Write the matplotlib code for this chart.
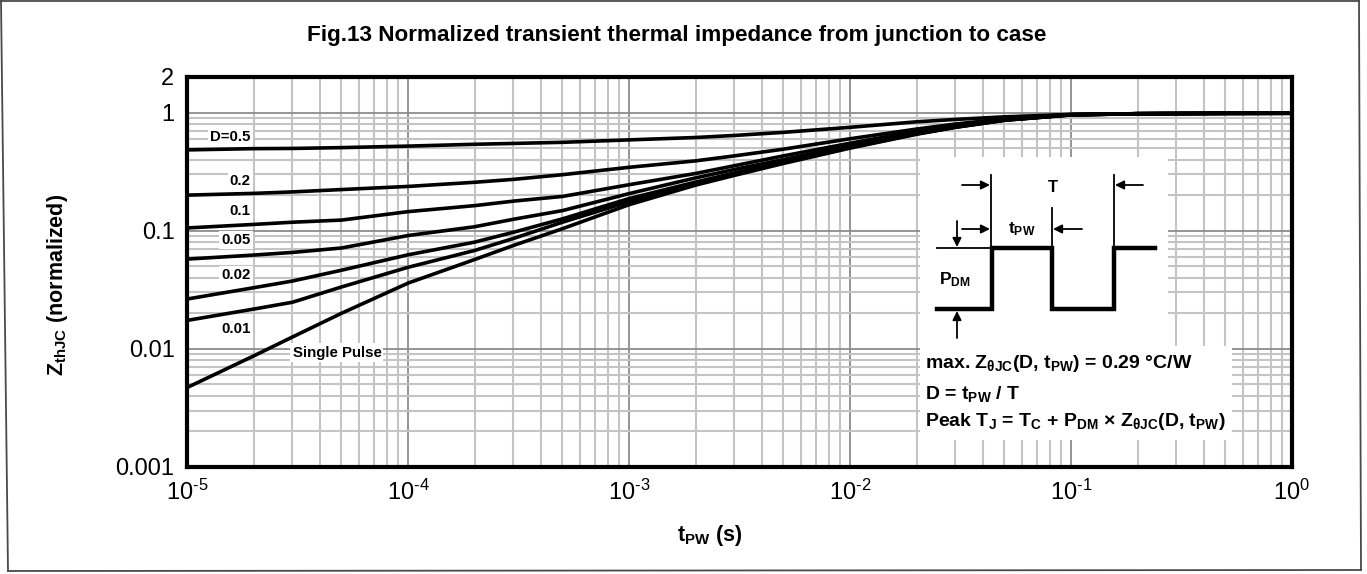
import numpy as np
import matplotlib
matplotlib.use("Agg")
import matplotlib.pyplot as plt
from matplotlib.ticker import LogLocator, FixedLocator, NullFormatter
from matplotlib.patches import Rectangle
from matplotlib.lines import Line2D

plt.rcParams['font.family'] = ['Liberation Sans', 'DejaVu Sans']
plt.rcParams['mathtext.fontset'] = 'custom'
plt.rcParams['mathtext.rm'] = 'Liberation Sans'
plt.rcParams['mathtext.bf'] = 'Liberation Sans:bold'
plt.rcParams['mathtext.it'] = 'Liberation Sans:italic'
plt.rcParams['axes.unicode_minus'] = False

# ---- data: pulse width (s) and normalized Zth(j-c) per duty cycle ----
t_pw = [1e-5, 2e-5, 3e-5, 5e-5, 1e-4, 2e-4, 3e-4, 5e-4, 1e-3, 2e-3,
        3e-3, 5e-3, 1e-2, 2e-2, 3e-2, 5e-2, 1e-1, 2e-1, 5e-1, 1.0]
z_d050 = [0.483, 0.495, 0.497, 0.505, 0.520, 0.539, 0.548, 0.560, 0.587, 0.615,
          0.640, 0.680, 0.750, 0.835, 0.875, 0.920, 0.965, 0.978, 0.985, 0.987]
z_d020 = [0.200, 0.207, 0.213, 0.223, 0.237, 0.257, 0.272, 0.298, 0.344, 0.390,
          0.430, 0.490, 0.600, 0.725, 0.800, 0.885, 0.962, 0.978, 0.985, 0.987]
z_d010 = [0.1055, 0.113, 0.118, 0.123, 0.145, 0.163, 0.178, 0.195, 0.245, 0.305,
          0.355, 0.430, 0.550, 0.695, 0.780, 0.875, 0.960, 0.978, 0.985, 0.987]
z_d005 = [0.0575, 0.0622, 0.0655, 0.0714, 0.091, 0.108, 0.125, 0.148, 0.206, 0.280,
          0.330, 0.400, 0.525, 0.672, 0.762, 0.867, 0.958, 0.978, 0.985, 0.987]
z_d002 = [0.0264, 0.0329, 0.0375, 0.0463, 0.0625, 0.080, 0.097, 0.126, 0.187, 0.258,
          0.308, 0.383, 0.510, 0.663, 0.755, 0.864, 0.957, 0.978, 0.985, 0.987]
z_d001 = [0.0174, 0.0217, 0.0248, 0.0334, 0.049, 0.068, 0.086, 0.118, 0.176, 0.250,
          0.300, 0.377, 0.505, 0.660, 0.752, 0.862, 0.956, 0.978, 0.985, 0.987]
z_single = [0.0047, 0.0087, 0.0126, 0.020, 0.036, 0.057, 0.075, 0.104, 0.166, 0.243,
            0.294, 0.371, 0.500, 0.655, 0.750, 0.860, 0.955, 0.978, 0.985, 0.987]

curve_names = ['D=0.5', '0.2', '0.1', '0.05', '0.02', '0.01', 'Single Pulse']
curve_values = [z_d050, z_d020, z_d010, z_d005, z_d002, z_d001, z_single]

x_ticks = [1e-5, 1e-4, 1e-3, 1e-2, 1e-1, 1.0]
x_tick_labels = [r'$\mathregular{10^{\text{-5}}}$', r'$\mathregular{10^{\text{-4}}}$',
                 r'$\mathregular{10^{\text{-3}}}$', r'$\mathregular{10^{\text{-2}}}$',
                 r'$\mathregular{10^{\text{-1}}}$', r'$\mathregular{10^{0}}$']
y_ticks = [0.001, 0.01, 0.1, 1, 2]
y_tick_labels = ['0.001', '0.01', '0.1', '1', '2']

# ---- figure in pixel units ----
W, H = 1367, 574
fig = plt.figure(figsize=(W / 100, H / 100), dpi=100)
fig.patch.set_facecolor('white')


def fx(px):
    return px / W


def fy(py):
    return 1 - py / H


ax = fig.add_axes([fx(187), fy(467), fx(1292) - fx(187), fy(77) - fy(467)])
ax.set_xscale('log')
ax.set_yscale('log')
ax.set_xlim(1e-5, 1.0)
ax.set_ylim(1e-3, 2.0)

ax.xaxis.set_major_locator(FixedLocator(x_ticks))
ax.set_xticklabels(x_tick_labels)
ax.xaxis.set_minor_locator(LogLocator(base=10, subs=np.arange(2, 10), numticks=30))
ax.xaxis.set_minor_formatter(NullFormatter())
ax.yaxis.set_major_locator(FixedLocator(y_ticks))
ax.set_yticklabels(y_tick_labels)
ax.yaxis.set_minor_locator(LogLocator(base=10, subs=np.arange(2, 10), numticks=30))
ax.yaxis.set_minor_formatter(NullFormatter())

ax.tick_params(which='both', length=0)
ax.tick_params(axis='x', which='major', labelsize=17, pad=9)
ax.tick_params(axis='y', which='major', labelsize=17, pad=9)

ax.grid(which='minor', color='#c4c4c4', lw=1.5, zorder=0)
ax.grid(which='major', color='#8c8c8c', lw=1.3, zorder=0)
ax.set_axisbelow(True)
for sp in ax.spines.values():
    sp.set_linewidth(3.0)
    sp.set_color('black')

for zvals in curve_values:
    ax.plot(t_pw, zvals, color='black', lw=2.6, solid_joinstyle='round',
            solid_capstyle='butt', zorder=3)

# curve labels (data coordinates)
label_box = dict(facecolor='white', edgecolor='none', pad=1.5)
label_pos = [(1.94e-5, 0.626), (1.94e-5, 0.262), (1.94e-5, 0.146),
             (1.94e-5, 0.083), (1.94e-5, 0.042), (1.94e-5, 0.0147)]
for name, (lx, ly) in zip(curve_names[:-1], label_pos):
    ax.text(lx, ly, name, ha='right', va='center', fontsize=10.8,
            fontweight='bold', bbox=label_box, zorder=2)
ax.text(4.77e-5, 0.0093, curve_names[-1], ha='center', va='center',
        fontsize=10.8, fontweight='bold', bbox=label_box, zorder=2)

# titles
fig.text(fx(677), fy(35), 'Fig.13 Normalized transient thermal impedance from junction to case',
         ha='center', va='center', fontsize=16.2, fontweight='bold')
fig.text(fx(710), fy(536), r't$_\mathregular{PW}$ (s)', ha='center', va='center',
         fontsize=15.5, fontweight='bold')
fig.text(fx(58), fy(285), r'Z$_\mathregular{thJC}$ (normalized)', ha='center',
         va='center', rotation=90, fontsize=15.5, fontweight='bold')

# ---- inset: pulse definition and formulas ----
ins = fig.add_axes([fx(920), fy(440), fx(1232) - fx(920), fy(157) - fy(440)])
ins.set_xlim(920, 1232)
ins.set_ylim(440, 157)
ins.axis('off')
ins.add_patch(Rectangle((920, 157), 248, 283, facecolor='white', edgecolor='none',
                        clip_on=False, zorder=0))
ins.add_patch(Rectangle((1168, 346), 64, 94, facecolor='white', edgecolor='none',
                        clip_on=False, zorder=0))

ins.plot([937, 991.5, 991.5, 1051.5, 1051.5, 1113.5, 1113.5, 1155],
         [309, 309, 248, 248, 309, 309, 248, 248], color='black', lw=3.2,
         solid_joinstyle='miter', clip_on=False, zorder=2)
ins.plot([937, 991], [248, 248], color='black', lw=1.3, clip_on=False, zorder=2)
ins.plot([991, 991], [175, 248], color='black', lw=1.3, clip_on=False, zorder=2)
ins.plot([1052, 1052], [208, 248], color='black', lw=1.3, clip_on=False, zorder=2)
ins.plot([1114, 1114], [175, 248], color='black', lw=1.3, clip_on=False, zorder=2)

arrow = dict(arrowstyle='-|>', color='black', lw=1.3, mutation_scale=13,
             shrinkA=0, shrinkB=0)
ins.annotate('', xy=(990, 185), xytext=(962, 185), arrowprops=arrow)
ins.annotate('', xy=(1115, 185), xytext=(1143, 185), arrowprops=arrow)
ins.annotate('', xy=(990, 229), xytext=(962, 229), arrowprops=arrow)
ins.annotate('', xy=(1053, 229), xytext=(1082, 229), arrowprops=arrow)
ins.annotate('', xy=(957, 247), xytext=(957, 221), arrowprops=arrow)
ins.annotate('', xy=(957, 311), xytext=(957, 338), arrowprops=arrow)

ins.text(1053, 187, 'T', ha='center', va='center', fontsize=12, fontweight='bold')
ins.text(1022, 229, r't$_\mathregular{PW}$', ha='center', va='center', fontsize=12.5,
         fontweight='bold')
ins.text(939, 280, r'P$_\mathregular{DM}$', ha='left', va='center', fontsize=12.5,
         fontweight='bold')

ins.text(925, 363, r'max. Z$_\mathregular{θJC}$(D, t$_\mathregular{PW}$) = 0.29 °C/W',
         ha='left', va='center', fontsize=14, fontweight='bold')
ins.text(925, 394, r'D = t$_\mathregular{PW}$ / T', ha='left', va='center',
         fontsize=14, fontweight='bold')
ins.text(925, 422, r'Peak T$_\mathregular{J}$ = T$_\mathregular{C}$ + P$_\mathregular{DM}$ × Z$_\mathregular{θJC}$(D, t$_\mathregular{PW}$)',
         ha='left', va='center', fontsize=14, fontweight='bold')

# outer frame
frame_kw = dict(transform=fig.transFigure, color='#4a4a4a', lw=1.3)
fig.add_artist(Line2D([fx(1), fx(8)], [fy(0.5), fy(571)], **frame_kw))
fig.add_artist(Line2D([fx(8), fx(1361)], [fy(571), fy(570)], **frame_kw))
fig.add_artist(Line2D([fx(1359), fx(1361)], [fy(0.5), fy(570)], **frame_kw))
fig.add_artist(Line2D([fx(1), fx(1359)], [fy(0.5), fy(0.5)], **frame_kw))

fig.savefig('out.png', dpi=100, facecolor='white')
